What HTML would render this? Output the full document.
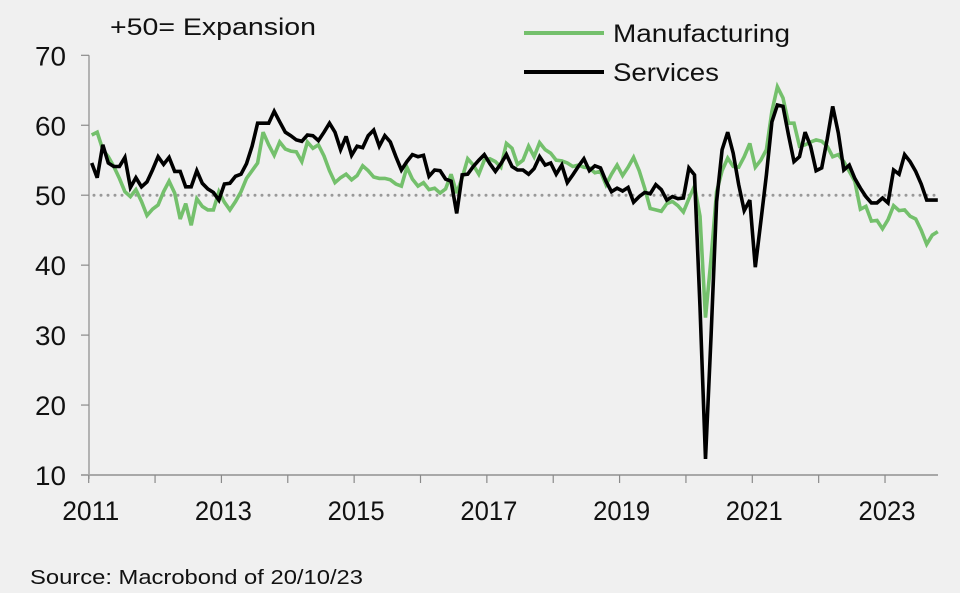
<!DOCTYPE html>
<html><head><meta charset="utf-8"><style>
html,body{margin:0;padding:0;background:#f0f0f0;}
svg{display:block;font-family:"Liberation Sans",Arial,sans-serif;}
</style></head><body>
<svg id="chart" width="960" height="593" viewBox="0 0 960 593" xmlns="http://www.w3.org/2000/svg">
<rect width="960" height="593" fill="#f0f0f0"/>
<text x="110" y="35" font-size="24" fill="#111" textLength="206" lengthAdjust="spacingAndGlyphs">+50= Expansion</text>
<g>
<line x1="524" y1="33" x2="604" y2="33" stroke="#74c06c" stroke-width="4"/>
<text x="613" y="42" font-size="25" fill="#111" textLength="177" lengthAdjust="spacingAndGlyphs">Manufacturing</text>
<line x1="524" y1="72" x2="604" y2="72" stroke="#000" stroke-width="4"/>
<text x="613" y="81" font-size="25" fill="#111" textLength="106" lengthAdjust="spacingAndGlyphs">Services</text>
</g>
<g id="axes"></g>
<g id="series"></g>
<text x="30" y="584" font-size="20" fill="#111" textLength="333" lengthAdjust="spacingAndGlyphs">Source: Macrobond of 20/10/23</text>
</svg>
<script>
const yTicks = [10,20,30,40,50,60,70];
const xYears = [2011,2012,2013,2014,2015,2016,2017,2018,2019,2020,2021,2022,2023];
const xLabels = ["2011","2013","2015","2017","2019","2021","2023"];
const startYear = 2011;
const manufacturing = [58.6,59.0,56.5,55.5,54.1,52.4,50.5,49.8,50.8,49.1,47.1,48.0,48.6,50.5,52.0,50.3,46.6,48.8,45.7,49.5,48.4,47.9,47.9,50.5,49.0,47.9,49.1,50.5,52.4,53.5,54.6,59.0,57.2,55.7,57.6,56.6,56.3,56.2,54.8,57.6,56.7,57.2,55.6,53.5,51.8,52.5,53.0,52.2,52.8,54.2,53.5,52.6,52.4,52.4,52.2,51.6,51.3,54.0,52.3,51.3,51.8,50.8,51.0,50.3,50.9,53.0,50.3,52.5,55.2,54.3,53.0,55.0,55.2,54.8,54.0,57.4,56.7,54.4,55.0,57.0,55.5,57.5,56.5,56.0,55.0,54.9,54.6,54.1,54.3,54.0,53.9,53.2,53.4,51.5,53.0,54.3,52.8,54.0,55.4,53.5,51.0,48.1,47.9,47.7,48.8,49.1,48.5,47.6,49.5,51.3,47.0,32.5,41.0,50.5,53.5,55.3,54.1,54.0,55.5,57.4,54.0,55.0,56.5,62.0,65.5,63.9,60.3,60.3,57.0,57.2,57.6,57.9,57.7,57.0,55.5,55.8,54.8,53.4,52.0,48.0,48.4,46.3,46.4,45.2,46.5,48.5,47.8,47.9,47.0,46.6,45.0,43.0,44.3,44.8];
const services = [54.6,52.5,57.2,54.6,54.1,54.1,55.4,51.1,52.5,51.2,51.9,53.6,55.5,54.4,55.4,53.4,53.4,51.2,51.2,53.5,51.7,50.9,50.4,49.3,51.6,51.7,52.7,53.0,54.5,57.0,60.3,60.3,60.3,62.0,60.5,59.0,58.5,57.9,57.7,58.6,58.5,57.8,59.0,60.3,59.0,56.5,58.4,55.7,57.0,56.8,58.5,59.3,57.0,58.5,57.6,55.5,53.6,54.8,55.8,55.5,55.7,52.7,53.6,53.5,52.3,52.0,47.4,52.9,53.0,54.1,55.0,55.8,54.5,53.4,54.5,55.8,54.1,53.6,53.6,53.0,53.8,55.5,54.3,54.6,53.0,54.3,51.8,52.9,54.1,55.2,53.5,54.2,53.9,52.0,50.5,51.0,50.6,51.1,49.0,49.8,50.4,50.2,51.5,50.8,49.3,49.8,49.5,49.6,53.9,52.9,34.0,12.3,30.0,49.1,56.5,59.0,56.0,51.5,47.8,49.3,39.7,46.2,52.9,60.5,62.9,62.7,58.6,54.8,55.5,59.0,57.0,53.5,53.9,58.0,62.7,58.9,53.6,54.3,52.4,51.0,49.8,48.9,48.9,49.6,48.9,53.6,53.0,55.8,54.8,53.4,51.6,49.3,49.3,49.3];

const NS="http://www.w3.org/2000/svg";
const X0=88.7, PX_PER_MONTH=5.53, DATA_OFFSET=3, Y_TOP=55.3, Y_BOT=475, V_TOP=70, V_BOT=10;
function xMonth(m){return X0+m*PX_PER_MONTH;}
function xYear(y){return xMonth((y-startYear)*12);}
function yVal(v){return Y_BOT-(v-V_BOT)*(Y_BOT-Y_TOP)/(V_TOP-V_BOT);}
function mk(tag,attrs,parent){const e=document.createElementNS(NS,tag);for(const k in attrs)e.setAttribute(k,attrs[k]);parent.appendChild(e);return e;}

const axes=document.getElementById('axes');
const ser=document.getElementById('series');
let yl=mk('line',{x1:89,y1:Y_TOP,x2:89,y2:Y_BOT+4,stroke:'#8a8a8a','stroke-width':1.2},axes);


yTicks.forEach(v=>{
  const t=mk('line',{x1:81,y1:yVal(v),x2:89,y2:yVal(v),stroke:'#8a8a8a','stroke-width':1.2},axes);
  
  
  const lb=mk('text',{x:66,y:yVal(v)+10,'font-size':27,'text-anchor':'end',fill:'#111',textLength:31,lengthAdjust:'spacingAndGlyphs'},axes);
  lb.textContent=v;
  
  
});
let xl=mk('line',{x1:81,y1:Y_BOT,x2:938,y2:Y_BOT,stroke:'#a8a8a8','stroke-width':2},axes);


xYears.forEach(y=>{
  const t=mk('line',{x1:xYear(y),y1:Y_BOT,x2:xYear(y),y2:Y_BOT+8,stroke:'#8a8a8a','stroke-width':1.2},axes);
  
  
});
xLabels.forEach(s=>{
  const lb=mk('text',{x:xYear(+s)+2,y:520,'font-size':27,'text-anchor':'middle',fill:'#111',textLength:57,lengthAdjust:'spacingAndGlyphs'},axes);
  lb.textContent=s;
  
  
});
let ref=mk('line',{x1:94,y1:yVal(50),x2:938,y2:yVal(50),stroke:'#999','stroke-width':3,'stroke-dasharray':'0 7','stroke-linecap':'round'},axes);



function path(arr,color,name){
  const d=arr.map((v,i)=>(i?'L':'M')+(xMonth(i)+DATA_OFFSET).toFixed(1)+' '+yVal(v).toFixed(1)).join(' ');
  const p=mk('path',{d:d,fill:'none',stroke:color,'stroke-width':3.6,'stroke-linejoin':'miter','stroke-miterlimit':3},ser);
  
  
}
path(manufacturing,'#74c06c','manufacturing-line');
path(services,'#000','services-line');
</script>
</body></html>
